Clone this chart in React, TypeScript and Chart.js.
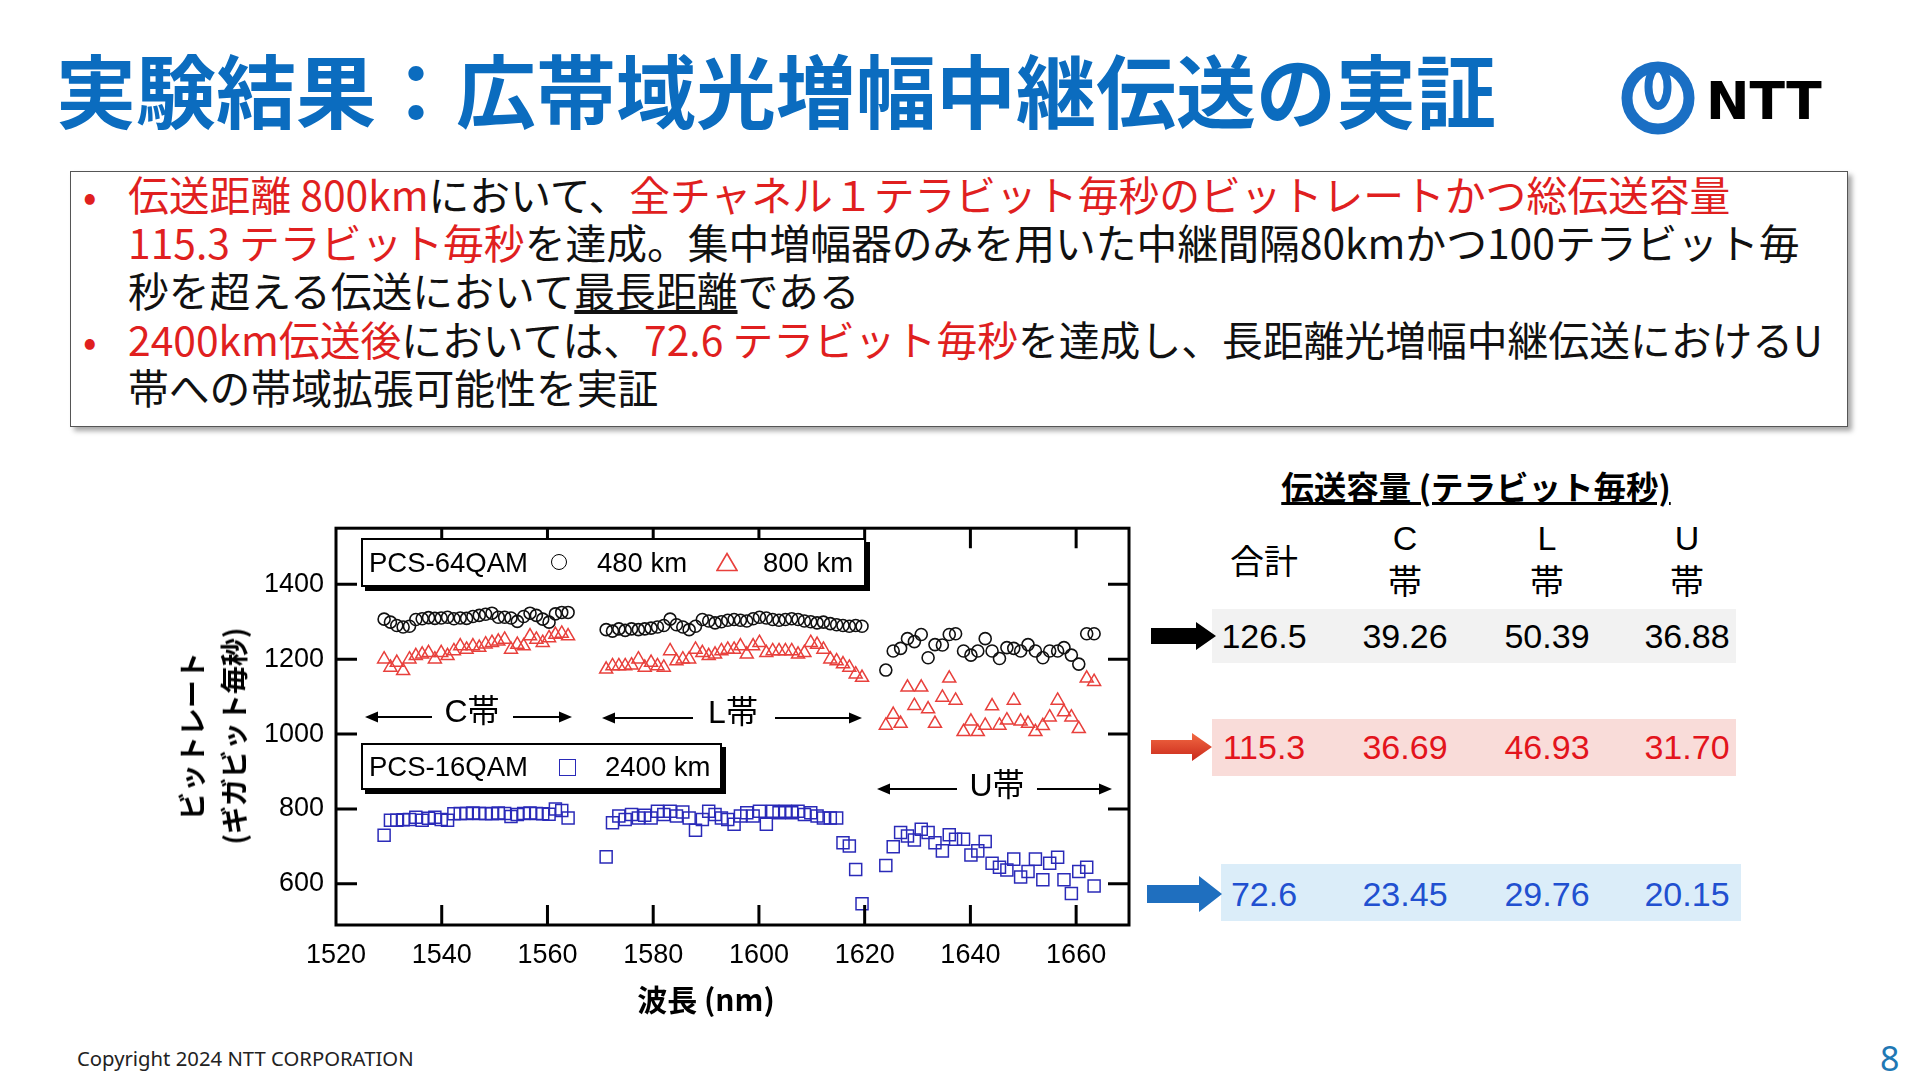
import React, { useEffect, useRef } from 'react';
import { Chart, registerables } from 'chart.js';

Chart.register(...registerables);

// ---------- data ----------
const xTickValues = [1520, 1540, 1560, 1580, 1600, 1620, 1640, 1660];
const yTickValues = [600, 800, 1000, 1200, 1400];

const wlC = [1529.1, 1530.3, 1531.5, 1532.7, 1533.9, 1535.1, 1536.3, 1537.5, 1538.7, 1539.9, 1541.1, 1542.3, 1543.5, 1544.7, 1545.9, 1547.1, 1548.3, 1549.5, 1550.7, 1551.9, 1553.1, 1554.3, 1555.5, 1556.7, 1557.9, 1559.1, 1560.3, 1561.5, 1562.7, 1563.9];
const wlL = [1571.1, 1572.3, 1573.5, 1574.7, 1575.9, 1577.2, 1578.4, 1579.6, 1580.8, 1582.0, 1583.2, 1584.4, 1585.6, 1586.8, 1588.0, 1589.3, 1590.5, 1591.7, 1592.9, 1594.1, 1595.3, 1596.5, 1597.7, 1598.9, 1600.1, 1601.4, 1602.6, 1603.8, 1605.0, 1606.2, 1607.4, 1608.6, 1609.8, 1611.0, 1612.2, 1613.5, 1614.7, 1615.9, 1617.1, 1618.3, 1619.5];
const wlU = [1624.0, 1625.4, 1626.8, 1628.1, 1629.4, 1630.7, 1632.0, 1633.3, 1634.7, 1636.0, 1637.2, 1638.7, 1640.1, 1641.4, 1642.8, 1644.1, 1645.5, 1646.9, 1648.2, 1649.5, 1650.9, 1652.3, 1653.7, 1655.0, 1656.5, 1657.7, 1659.1, 1660.5, 1662.0, 1663.4];

// PCS-64QAM 480 km (circles)
const km480C = [1307, 1299, 1290, 1286, 1288, 1306, 1308, 1311, 1309, 1310, 1312, 1308, 1310, 1309, 1314, 1317, 1320, 1323, 1312, 1312, 1310, 1301, 1314, 1323, 1317, 1307, 1299, 1321, 1325, 1325];
const km480L = [1279, 1275, 1281, 1277, 1281, 1279, 1281, 1283, 1286, 1290, 1307, 1292, 1286, 1279, 1288, 1306, 1302, 1297, 1300, 1304, 1306, 1304, 1302, 1308, 1312, 1310, 1306, 1304, 1306, 1308, 1306, 1302, 1300, 1297, 1299, 1295, 1292, 1290, 1288, 1290, 1288];
const km480U = [1171, 1222, 1229, 1255, 1247, 1266, 1204, 1239, 1238, 1266, 1268, 1222, 1211, 1222, 1255, 1222, 1202, 1231, 1229, 1222, 1239, 1222, 1204, 1222, 1222, 1231, 1211, 1187, 1268, 1268];

// PCS-64QAM 800 km (triangles)
const km800C = [1200, 1178, 1191, 1169, 1200, 1209, 1213, 1217, 1200, 1217, 1209, 1222, 1235, 1226, 1235, 1231, 1240, 1244, 1248, 1253, 1226, 1239, 1235, 1262, 1253, 1244, 1257, 1266, 1269, 1262];
const km800L = [1173, 1182, 1182, 1182, 1184, 1200, 1178, 1191, 1182, 1178, 1222, 1195, 1200, 1200, 1226, 1217, 1209, 1213, 1222, 1226, 1226, 1235, 1213, 1235, 1244, 1217, 1222, 1222, 1222, 1222, 1213, 1217, 1244, 1239, 1226, 1200, 1195, 1187, 1178, 1160, 1151];
const km800U = [1023, 1052, 1028, 1125, 1076, 1125, 1067, 1028, 1098, 1149, 1090, 1006, 1034, 1006, 1023, 1075, 1023, 1037, 1090, 1034, 1028, 1006, 1022, 1045, 1090, 1059, 1045, 1014, 1149, 1140];

// PCS-16QAM 2400 km (squares)
const km2400C = [730, 770, 770, 771, 772, 778, 770, 775, 778, 772, 770, 787, 788, 788, 789, 788, 788, 787, 789, 788, 780, 785, 788, 789, 788, 787, 786, 800, 796, 776];
const km2400L = [672, 763, 781, 772, 785, 776, 783, 776, 794, 785, 794, 781, 792, 776, 743, 772, 794, 785, 776, 772, 759, 781, 790, 781, 794, 759, 794, 790, 794, 790, 794, 785, 790, 781, 776, 776, 776, 710, 701, 638, 547];
const km2400U = [649, 699, 737, 728, 717, 746, 737, 710, 688, 731, 719, 719, 677, 688, 713, 655, 644, 637, 666, 618, 633, 666, 611, 655, 671, 611, 574, 633, 644, 594];

// capacity table
const tableHeaders = ['合計', 'C\n帯', 'L\n帯', 'U\n帯'];
const cap480 = ['126.5', '39.26', '50.39', '36.88'];
const cap800 = ['115.3', '36.69', '46.93', '31.70'];
const cap2400 = ['72.6', '23.45', '29.76', '20.15'];

// ---------- styles ----------
const RED = '#e01f1f';
const BLUE_TITLE = '#0b6cbf';
const JP = "'Noto Sans CJK JP', 'Noto Sans', sans-serif";
const AR = "'Liberation Sans', Arial, 'Noto Sans CJK JP', sans-serif";

function pts(xs: number[], ys: number[]) {
  return xs.map((x, i) => ({ x, y: ys[i] }));
}

const framePlugin = {
  id: 'frameTicks',
  afterDraw(chart: any) {
    const { ctx, chartArea: a, scales } = chart;
    const x = scales.x;
    const y = scales.y;
    ctx.save();
    ctx.strokeStyle = '#000';
    ctx.lineWidth = 3;
    ctx.beginPath();
    for (const v of xTickValues) {
      const px = x.getPixelForValue(v);
      if (px <= a.left + 2 || px >= a.right - 2) continue;
      ctx.moveTo(px, a.bottom);
      ctx.lineTo(px, a.bottom - 20);
      ctx.moveTo(px, a.top);
      ctx.lineTo(px, a.top + 20);
    }
    for (const v of yTickValues) {
      const py = y.getPixelForValue(v);
      ctx.moveTo(a.left, py);
      ctx.lineTo(a.left + 21, py);
      ctx.moveTo(a.right, py);
      ctx.lineTo(a.right - 21, py);
    }
    ctx.stroke();
    ctx.strokeRect(a.left, a.top, a.right - a.left, a.bottom - a.top);
    ctx.restore();
  },
};

function BandArrow({ x1, x2, y, gapL, gapR }: { x1: number; x2: number; y: number; gapL: number; gapR: number }) {
  return (
    <g>
      <line x1={x1 + 10} y1={y} x2={gapL} y2={y} stroke="#000" strokeWidth={2} />
      <polygon points={`${x1},${y} ${x1 + 13},${y - 5.5} ${x1 + 13},${y + 5.5}`} fill="#000" />
      <line x1={gapR} y1={y} x2={x2 - 10} y2={y} stroke="#000" strokeWidth={2} />
      <polygon points={`${x2},${y} ${x2 - 13},${y - 5.5} ${x2 - 13},${y + 5.5}`} fill="#000" />
    </g>
  );
}

function blockArrow(x0: number, x1: number, cy: number, h: number, H: number, xh: number) {
  return `${x0},${cy - h} ${xh},${cy - h} ${xh},${cy - H} ${x1},${cy} ${xh},${cy + H} ${xh},${cy + h} ${x0},${cy + h}`;
}

const colCenters = [1264, 1405, 1547, 1687];

export default function App() {
  const ref = useRef<HTMLCanvasElement>(null);

  useEffect(() => {
    const canvas = ref.current;
    if (!canvas) return;
    const chart = new Chart(canvas, {
      type: 'scatter',
      data: {
        datasets: [
          {
            label: '480 km',
            data: [...pts(wlC, km480C), ...pts(wlL, km480L), ...pts(wlU, km480U)],
            pointStyle: 'circle',
            pointRadius: 6,
            borderColor: '#111',
            backgroundColor: 'rgba(0,0,0,0)',
            borderWidth: 1.6,
            showLine: false,
          },
          {
            label: '800 km',
            data: [...pts(wlC, km800C), ...pts(wlL, km800L), ...pts(wlU, km800U)],
            pointStyle: 'triangle',
            pointRadius: 7.5,
            borderColor: '#e8403c',
            backgroundColor: 'rgba(0,0,0,0)',
            borderWidth: 1.5,
            showLine: false,
          },
          {
            label: '2400 km',
            data: [...pts(wlC, km2400C), ...pts(wlL, km2400L), ...pts(wlU, km2400U)],
            pointStyle: 'rect',
            pointRadius: 8.5,
            borderColor: '#2a2ab8',
            backgroundColor: 'rgba(0,0,0,0)',
            borderWidth: 1.5,
            showLine: false,
          },
        ],
      },
      options: {
        animation: false,
        responsive: false,
        maintainAspectRatio: false,
        layout: { padding: { top: 24, right: 21, left: 0, bottom: 0 } },
        plugins: { legend: { display: false }, tooltip: { enabled: false } },
        scales: {
          x: {
            type: 'linear',
            min: 1520,
            max: 1670,
            afterBuildTicks: (s: any) => {
              s.ticks = xTickValues.map((v) => ({ value: v }));
            },
            afterFit: (s: any) => {
              s.height = 55;
            },
            grid: { display: false, drawTicks: false },
            border: { display: false },
            ticks: {
              color: '#000',
              font: { size: 27, family: AR },
              padding: 14,
              maxRotation: 0,
              autoSkip: false,
              callback: (v: any) => String(v),
            },
          },
          y: {
            type: 'linear',
            min: 490,
            max: 1550,
            afterBuildTicks: (s: any) => {
              s.ticks = yTickValues.map((v) => ({ value: v }));
            },
            afterFit: (s: any) => {
              s.width = 186;
            },
            grid: { display: false, drawTicks: false },
            border: { display: false },
            ticks: {
              color: '#000',
              font: { size: 27, family: AR },
              padding: 12,
              autoSkip: false,
              callback: (v: any) => String(v),
            },
          },
        },
      },
      plugins: [framePlugin],
    } as any);
    return () => chart.destroy();
  }, []);

  const abs = (s: React.CSSProperties): React.CSSProperties => ({ position: 'absolute', ...s });
  const R = ({ children }: { children: React.ReactNode }) => <span style={{ color: RED }}>{children}</span>;

  const numRow = (vals: string[], cy: number, color: string) =>
    vals.map((v, i) => (
      <div
        key={v + i}
        style={abs({ left: colCenters[i] - 90, width: 180, top: cy - 20, lineHeight: '40px', fontSize: 34, fontFamily: AR, color, textAlign: 'center' })}
      >
        {v}
      </div>
    ));

  return (
    <div style={abs({ left: 0, top: 0, width: 1920, height: 1080, background: '#fff', overflow: 'hidden', fontFamily: JP, color: '#111' })}>
      {/* title */}
      <div style={abs({ left: 56, top: 47, fontSize: 80, lineHeight: '80px', fontWeight: 700, color: BLUE_TITLE, whiteSpace: 'nowrap' })}>
        実験結果：広帯域光増幅中継伝送の実証
      </div>

      {/* NTT logo */}
      <svg style={abs({ left: 0, top: 0 })} width={1920} height={1080}>
        <circle cx={1658} cy={98} r={31} fill="none" stroke="#1a6fc4" strokeWidth={11} />
        <ellipse cx={1658} cy={87} rx={9.5} ry={19} fill="none" stroke="#1a6fc4" strokeWidth={8} />
        {/* band arrows */}
        <BandArrow x1={365} x2={572} y={717} gapL={432} gapR={513} />
        <BandArrow x1={602} x2={862} y={718} gapL={693} gapR={775} />
        <BandArrow x1={877} x2={1112} y={789} gapL={957} gapR={1037} />
        {/* table row backgrounds */}
        <rect x={1212} y={609} width={524} height={54} fill="#f2f2f2" />
        <rect x={1212} y={719} width={524} height={57} fill="#f9dcd9" />
        <rect x={1221} y={864} width={520} height={57} fill="#dbedf9" />
        <defs>
          <linearGradient id="redg" x1="0" y1="0" x2="0" y2="1">
            <stop offset="0" stopColor="#f26a44" />
            <stop offset="1" stopColor="#c9281a" />
          </linearGradient>
        </defs>
        <polygon points={blockArrow(1151, 1216, 636, 8, 14, 1196)} fill="#000" />
        <polygon points={blockArrow(1151, 1212, 747, 7, 14, 1192)} fill="url(#redg)" />
        <polygon points={blockArrow(1147, 1222, 894, 9, 18, 1199)} fill="#1f6fbf" />
      </svg>
      <div style={abs({ left: 1706, top: 75, fontSize: 52, lineHeight: '52px', fontWeight: 700, fontFamily: "'DejaVu Sans', sans-serif", color: '#000' })}>
        NTT
      </div>

      {/* text box */}
      <div
        style={abs({
          left: 70,
          top: 171,
          width: 1778,
          height: 256,
          boxSizing: 'border-box',
          border: '1.5px solid #555',
          boxShadow: '4px 4px 5px rgba(0,0,0,0.35)',
          background: '#fff',
        })}
      />
      <div style={abs({ left: 83, top: 169.5, fontSize: 40, lineHeight: '48.4px', color: RED })}>•</div>
      <div style={abs({ left: 83, top: 314.7, fontSize: 40, lineHeight: '48.4px', color: RED })}>•</div>
      <div style={abs({ left: 128, top: 169.5, fontSize: 40.8, lineHeight: '48.4px', whiteSpace: 'nowrap', color: '#111' })}>
        <div>
          <R>伝送距離 800km</R>において、<R>全チャネル１テラビット毎秒のビットレートかつ総伝送容量</R>
        </div>
        <div>
          <R>115.3 テラビット毎秒</R>を達成。集中増幅器のみを用いた中継間隔80kmかつ100テラビット毎
        </div>
        <div>
          秒を超える伝送において<span style={{ textDecoration: 'underline' }}>最長距離</span>である
        </div>
        <div>
          <R>2400km伝送後</R>においては、<R>72.6 テラビット毎秒</R>を達成し、長距離光増幅中継伝送におけるU
        </div>
        <div>帯への帯域拡張可能性を実証</div>
      </div>

      {/* chart */}
      <canvas ref={ref} width={1000} height={480} style={abs({ left: 150, top: 500, width: 1000, height: 480 })} />

      {/* axis titles */}
      <div
        style={abs({
          left: 212,
          top: 736,
          transform: 'translate(-50%, -50%) rotate(-90deg)',
          fontSize: 28,
          lineHeight: '42px',
          fontWeight: 700,
          textAlign: 'center',
          whiteSpace: 'nowrap',
          color: '#000',
        })}
      >
        <div>ビットレート</div>
        <div>(ギガビット毎秒)</div>
      </div>
      <div style={abs({ left: 556, width: 300, top: 979, fontSize: 30, lineHeight: '38px', fontWeight: 700, textAlign: 'center', color: '#000' })}>
        波長 (nm)
      </div>

      {/* band labels */}
      <div style={abs({ left: 422, width: 100, top: 691, fontSize: 32, lineHeight: '40px', fontFamily: AR, textAlign: 'center', color: '#000' })}>C帯</div>
      <div style={abs({ left: 683, width: 100, top: 692, fontSize: 32, lineHeight: '40px', fontFamily: AR, textAlign: 'center', color: '#000' })}>L帯</div>
      <div style={abs({ left: 947, width: 100, top: 765, fontSize: 32, lineHeight: '40px', fontFamily: AR, textAlign: 'center', color: '#000' })}>U帯</div>

      {/* legend box 1 */}
      <div
        style={abs({
          left: 361,
          top: 538,
          width: 505,
          height: 49,
          boxSizing: 'border-box',
          border: '2px solid #000',
          boxShadow: '4px 4px 0 #000',
          background: '#fff',
          fontFamily: AR,
          fontSize: 27.5,
          lineHeight: '45px',
          color: '#000',
          whiteSpace: 'nowrap',
        })}
      >
        <span style={abs({ left: 6, top: 0 })}>PCS-64QAM</span>
        <span style={abs({ left: 188, top: 14, width: 16, height: 16, boxSizing: 'border-box', border: '1.6px solid #000', borderRadius: '50%' })} />
        <span style={abs({ left: 234, top: 0 })}>480 km</span>
        <svg style={abs({ left: 353, top: 12 })} width={22} height={20}>
          <polygon points="11,1.5 21,18.5 1,18.5" fill="none" stroke="#e8403c" strokeWidth={1.6} />
        </svg>
        <span style={abs({ left: 400, top: 0 })}>800 km</span>
      </div>

      {/* legend box 2 */}
      <div
        style={abs({
          left: 361,
          top: 743,
          width: 361,
          height: 47,
          boxSizing: 'border-box',
          border: '2px solid #000',
          boxShadow: '4px 4px 0 #000',
          background: '#fff',
          fontFamily: AR,
          fontSize: 27.5,
          lineHeight: '43px',
          color: '#000',
          whiteSpace: 'nowrap',
        })}
      >
        <span style={abs({ left: 6, top: 0 })}>PCS-16QAM</span>
        <span style={abs({ left: 196, top: 14, width: 17, height: 17, boxSizing: 'border-box', border: '1.6px solid #2a2ab8' })} />
        <span style={abs({ left: 242, top: 0 })}>2400 km</span>
      </div>

      {/* capacity table */}
      <div style={abs({ left: 1276, width: 400, top: 466, fontSize: 32.5, lineHeight: '40px', fontWeight: 700, textAlign: 'center', textDecoration: 'underline', color: '#000', whiteSpace: 'nowrap' })}>
        伝送容量 (テラビット毎秒)
      </div>
      {tableHeaders.map((h, i) => {
        const lines = h.split('\n');
        if (lines.length === 1) {
          return (
            <div key={h} style={abs({ left: colCenters[i] - 80, width: 160, top: 538, fontSize: 34, lineHeight: '44px', textAlign: 'center', color: '#000' })}>
              {h}
            </div>
          );
        }
        return (
          <div key={h} style={abs({ left: colCenters[i] - 80, width: 160, top: 518, fontSize: 34, lineHeight: '41px', textAlign: 'center', color: '#000' })}>
            <div style={{ fontFamily: AR }}>{lines[0]}</div>
            <div>{lines[1]}</div>
          </div>
        );
      })}
      {numRow(cap480, 636, '#000')}
      {numRow(cap800, 747, '#e3141c')}
      {numRow(cap2400, 894, '#2150d0')}

      {/* footer */}
      <div style={abs({ left: 77, top: 1046, fontSize: 20.3, lineHeight: '24px', fontFamily: "'Noto Sans', sans-serif", color: '#222' })}>
        Copyright 2024 NTT CORPORATION
      </div>
      <div style={abs({ left: 1880, top: 1038, fontSize: 34, lineHeight: '40px', fontFamily: "'Noto Sans', sans-serif", color: '#1f78b4' })}>8</div>
    </div>
  );
}
